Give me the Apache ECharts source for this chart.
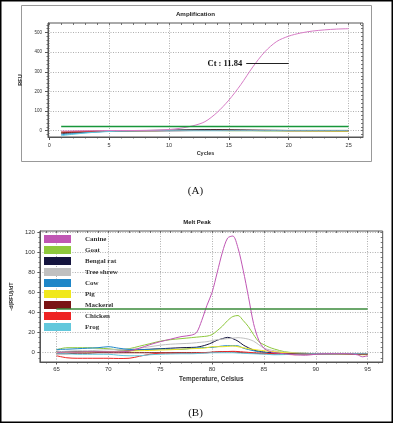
<!DOCTYPE html>
<html><head><meta charset="utf-8">
<script src="https://cdn.jsdelivr.net/npm/echarts@6/dist/echarts.min.js"></script>
<style>html,body{margin:0;padding:0;background:#fff}#c{width:393px;height:423px}</style>
</head><body><div id="c"></div>
<script>
// ---------- Data: (A) Amplification ----------
const cycles = [1,2,3,4,5,6,7,8,9,10,11,12,13,14,15,16,17,18,19,20,21,22,23,24,25];
const ampCanine     = [-2,-1,0,0,1,1,1,2,3,6,13,25,46,92,156,235,325,402,455,482,498,508,514,518,520];
const ampGoat       = [-8,-6,-4,-2,-1,0,0,1,1,1,2,2,2,2,2,2,1,1,1,1,1,1,1,1,1];
const ampBengalRat  = [-15,-11,-8,-5,-3,-1,0,1,2,3,4,5,6,6,5,4,3,2,2,1,1,1,1,0,0];
const ampTreeShrew  = [-12,-9,-6,-4,-2,-1,0,0,1,1,1,2,2,2,2,2,2,2,2,2,2,2,2,2,2];
const ampCow        = [-20,-15,-10,-6,-3,-1,0,0,0,0,1,1,1,1,1,1,1,0,0,0,0,0,0,0,0];
const ampPig        = [-5,-4,-3,-2,-1,0,0,0,0,1,1,1,1,1,0,0,0,-1,-1,-2,-2,-3,-3,-4,-4];
const ampMackerel   = [-10,-8,-5,-3,-2,-1,0,0,0,1,1,2,2,3,3,2,2,2,1,1,1,1,1,1,1];
const ampChicken    = [-6,-4,-3,-2,-1,0,0,0,0,0,0,1,1,1,1,1,1,1,1,0,0,0,0,0,0];
const ampFrog       = [-25,-18,-12,-7,-4,-2,-1,0,0,0,0,0,0,0,0,0,0,0,0,0,0,0,0,0,0];
const ampThreshold  = 22;
const ampThresholdCycles = [1, 25];
const ctLabel = 'Ct : 11.84';
const ctLineX = [16.45, 20];
const ctLineY = 342;
const ampXTicks = [0,5,10,15,20,25];
const ampYTicks = [0,100,200,300,400,500];

// ---------- Data: (B) Melt Peak ----------
const temps = [65,66,67,68,69,70,71,72,73,74,75,76,77,78,78.5,79,79.5,80,80.5,81,81.5,82,82.5,83,83.5,84,84.5,85,85.5,86,87,88,89,90,91,92,93,94,94.5,95];
const meltCanine    = [0,0.5,0.5,1,1,1,1,1.5,4.5,8,11,13.5,16,17.5,20,32,47,60,80,100,114,116,104,82,56,29,12.5,4.5,1.5,0,-1,-2,-2.5,-1.5,-1,-1,-1,-2,-4,-3];
const meltGoat      = [3,5,5,5,4.5,4,3,4,6.5,9,11.5,13,14,15,15.5,16,16.5,18,22,26.5,32,36,37,32,26,18,11,8,5.5,3.7,1,0,-0.5,-1,-1,-1,-1,-1,-1,-1];
const meltBengalRat = [1.5,1,1,1,1,1,1.5,2,3,3.5,4,4.5,5,5.3,5.5,6.5,8,10,12.5,14,15.3,14,11.5,7.7,5,2.7,1.5,0.7,0.2,0,-0.5,-1,-1,-1,-1,-1,-1,-1,-1,-1];
const meltTreeShrew = [1,1.5,2,2,2.5,3,3,3.5,4.5,6,7.5,8.5,9,9.5,10,10.5,11,12,13,13.5,14,14.5,15,14.5,13.5,11.5,8,4.6,3,2,0.5,0,-0.5,-1,-1,-1,-1,-1,-1,-1];
const meltCow       = [3.3,3.5,4,4.5,5,6,4.5,3.3,3,3.2,3.7,3.5,3.3,4.4,4.7,5,5.2,5.3,6,6.7,7,7,6.8,4.6,3.2,2,1,0.3,-0.5,-1.3,-1.2,-1,-1,-1,-1,-1,-1,-1,-1.5,-1.5];
const meltPig       = [0,0.3,0.5,0.7,0.8,1,1.3,1.7,2,2.3,2.7,3,3.5,4,4.2,4.4,5,6,6,6,6.3,6.7,6,5,4,3.3,2.6,2,1.5,1,0,-0.5,-1,-1,-1,-1.2,-1.5,-1.8,-2,-2];
const meltMackerel  = [-1,-1,-0.5,-0.5,0,0,0,0,0,0,0,0,0,0,0,0,0.3,0.5,0.8,1,1,0.8,0.5,0,-0.3,-0.5,-0.8,-1,-1,-1,-1,-1,-1,-1,-1,-1,-1.2,-1.5,-1.5,-1.5];
const meltChicken   = [-3,-5,-5.5,-5.5,-5.5,-5.5,-5.7,-5.5,-3.5,-1.5,-0.5,-0.5,-0.5,-0.5,-0.3,0,0,0.5,0.8,1,1.2,1.4,1.2,0.8,0.4,0,-0.3,-0.5,-0.8,-1,-1.5,-2,-1.5,-1,-0.8,-0.8,-0.8,-1,-1,-1];
const meltFrog      = [-1,-1,-1.5,-1.5,-1.5,-1.5,-2.5,-3,-3,-2,-1.5,-1.2,-1,-1,-0.8,-0.5,-0.3,0,0,0,0,0,-0.3,-0.5,-0.8,-1,-1.2,-1.3,-1.7,-2,-1.8,-1.5,-1.2,-1,-1,-1,-1,-1,-1,-1];
const meltThreshold = 43.5;
const meltThresholdTemps = [65, 95];
const meltXTicks = [65,70,75,80,85,90,95];
const meltYTicks = [0,20,40,60,80,100,120];

const speciesNames = ['Canine','Goat','Bengal rat','Tree shrew','Cow','Pig','Mackerel','Chicken','Frog'];
const speciesColors = ['#c056b4','#8ec83c','#14143e','#c0c0c0','#1e86c8','#f0e81c','#7a1414','#ee2424','#62c8dc'];
const ampColors = ['#d77cc6','#3aa64a','#1a1a2e','#9a9a9a','#2a9ad8','#e8d820','#7a1414','#d84040','#62c8dc'];

const ampSets = [ampCanine, ampGoat, ampBengalRat, ampTreeShrew, ampCow, ampPig, ampMackerel, ampChicken, ampFrog];
const meltSets = [meltCanine, meltGoat, meltBengalRat, meltTreeShrew, meltCow, meltPig, meltMackerel, meltChicken, meltFrog];

// ---------- helpers ----------
function range(a,b,s){const r=[];for(let v=a;v<=b+1e-9;v+=s)r.push(+v.toFixed(4));return r;}
function minors(a,b,s,maj){return range(a,b,s).filter(v=>!maj.some(m=>Math.abs(m-v)<1e-6));}
const tickCol = '#555';
const lblFont = 'Liberation Sans';
function baseAxis(gi,min,max,pos){
  return {gridIndex:gi,type:'value',min:min,max:max,position:pos,
    axisLine:{show:false,onZero:false},axisLabel:{show:false},axisTick:{show:false},splitLine:{show:false}};
}
function mainAxis(gi,min,max,pos,ticks,fs,margin,len){
  const a = baseAxis(gi,min,max,pos);
  a.axisLine = {show:true,onZero:false,lineStyle:{color:tickCol,width:1}};
  a.axisTick = {show:true,customValues:ticks,length:len,lineStyle:{color:tickCol,width:1}};
  a.axisLabel = {show:true,customValues:ticks,fontSize:fs,margin:margin,color:'#333',fontFamily:lblFont};
  a.splitLine = {show:true,lineStyle:{color:'#9a9a9a',type:[1,1.5],width:0.8}};
  return a;
}
function tickAxis(gi,min,max,pos,vals,len,inside){
  const a = baseAxis(gi,min,max,pos);
  a.axisTick = {show:true,customValues:vals,length:len,inside:!!inside,lineStyle:{color:tickCol,width:0.8}};
  return a;
}

// ranges
const AX = [-0.1, 26.2], AY = [-32, 549];
const MX = [63.4, 96.45], MY = [-9.2, 121];

const xAxis = [
  Object.assign(mainAxis(0,AX[0],AX[1],'bottom',ampXTicks,5.5,5,3),{name:'Cycles',nameLocation:'middle',nameGap:13,nameTextStyle:{fontSize:5.5,fontWeight:'bold',color:'#333',fontFamily:lblFont}}),
  tickAxis(0,AX[0],AX[1],'bottom',minors(1,26,1,ampXTicks),1.5,false),
  tickAxis(0,AX[0],AX[1],'top',range(0,26,1),2,true),
  Object.assign(mainAxis(1,MX[0],MX[1],'bottom',meltXTicks,6,4,2.5),{name:'Temperature, Celsius',nameLocation:'middle',nameGap:14,nameTextStyle:{fontSize:6.4,fontWeight:'bold',color:'#333',fontFamily:lblFont}}),
  tickAxis(1,MX[0],MX[1],'bottom',minors(64,96,1,meltXTicks),1.5,false),
  tickAxis(1,MX[0],MX[1],'top',range(64,96,1),2,true)
];
const yAxis = [
  Object.assign(mainAxis(0,AY[0],AY[1],'left',ampYTicks,4.5,6,3),{name:'RFU',nameLocation:'middle',nameGap:16,nameTextStyle:{fontSize:5.5,fontWeight:'bold',color:'#333',fontFamily:lblFont}}),
  tickAxis(0,AY[0],AY[1],'left',minors(-20,540,20,ampYTicks),1.5,false),
  tickAxis(0,AY[0],AY[1],'right',range(-20,540,20),2,true),
  Object.assign(mainAxis(1,MY[0],MY[1],'left',meltYTicks,6,5,2.5),{name:'-d(RFU)/dT',nameLocation:'middle',nameGap:17,nameTextStyle:{fontSize:5.5,fontWeight:'bold',color:'#333',fontFamily:lblFont}}),
  tickAxis(1,MY[0],MY[1],'left',minors(-5,120,5,meltYTicks),1.5,false),
  tickAxis(1,MY[0],MY[1],'right',range(-5,120,5),2,true)
];

const series = [];
ampSets.forEach((vals,i)=>{
  series.push({type:'line',name:'amp '+speciesNames[i],xAxisIndex:0,yAxisIndex:0,showSymbol:false,smooth:0.3,
    data:cycles.map((c,k)=>[c,vals[k]]),lineStyle:{width:1,color:ampColors[i]},itemStyle:{color:ampColors[i]},z:i===0?4:3});
});
series.push({type:'line',name:'amp threshold',xAxisIndex:0,yAxisIndex:0,showSymbol:false,
  data:ampThresholdCycles.map(c=>[c,ampThreshold]),lineStyle:{width:1.5,color:'#17963a'},z:5,
  markLine:{silent:true,symbol:'none',lineStyle:{color:'#222',width:1,type:'solid'},
    label:{show:true,position:'start',distance:4,formatter:ctLabel,fontFamily:'Liberation Serif',fontWeight:'bold',fontSize:8.5,color:'#111'},
    data:[[{coord:[ctLineX[0],ctLineY]},{coord:[ctLineX[1],ctLineY]}]]}});
meltSets.forEach((vals,i)=>{
  series.push({type:'line',name:speciesNames[i],xAxisIndex:3,yAxisIndex:3,showSymbol:false,smooth:0.3,
    data:temps.map((t,k)=>[t,vals[k]]),lineStyle:{width:1,color:speciesColors[i]},itemStyle:{color:speciesColors[i]},z:3+(i===0?1:0)});
});
series.push({type:'line',name:'melt threshold',xAxisIndex:3,yAxisIndex:3,showSymbol:false,
  data:meltThresholdTemps.map(t=>[t,meltThreshold]),lineStyle:{width:1.5,color:'#3a8a3a'},z:5});

const chart = echarts.init(document.getElementById('c'),null,{renderer:'canvas'});
chart.setOption({
  animation:false,
  backgroundColor:'#fff',
  grid:[
    {left:48,right:30,top:23,height:114,show:true,borderColor:'#555',borderWidth:1},
    {left:33,right:10.3,top:231,height:131,show:true,borderColor:'#555',borderWidth:1}
  ],
  xAxis:xAxis,
  yAxis:yAxis,
  legend:{data:speciesNames,left:44,top:235,orient:'vertical',icon:'rect',itemWidth:27,itemHeight:8,itemGap:3,
    selectedMode:false,padding:0,
    textStyle:{fontFamily:'Liberation Serif',fontWeight:'bold',fontSize:7,color:'#333',lineHeight:8,padding:[0,0,0,9]}},
  graphic:[
    {type:'rect',shape:{x:0.75,y:0.75,width:391.5,height:421.5},style:{fill:null,stroke:'#000',lineWidth:1.5},silent:true,z:100},
    {type:'rect',shape:{x:21.5,y:5.5,width:350,height:156},style:{fill:null,stroke:'#999',lineWidth:1},silent:true},
    {type:'text',x:195.5,y:14.7,style:{text:'Amplification',font:'bold 6.2px "Liberation Sans"',fill:'#222',align:'center',verticalAlign:'middle'}},
    {type:'text',x:197,y:222.3,style:{text:'Melt Peak',font:'bold 6px "Liberation Sans"',fill:'#222',align:'center',verticalAlign:'middle'}},
    {type:'text',x:195.5,y:191,style:{text:'(A)',font:'11px "Liberation Serif"',fill:'#111',align:'center',verticalAlign:'middle'}},
    {type:'text',x:195.5,y:413.5,style:{text:'(B)',font:'11px "Liberation Serif"',fill:'#111',align:'center',verticalAlign:'middle'}}
  ],
  series:series
});
</script></body></html>
